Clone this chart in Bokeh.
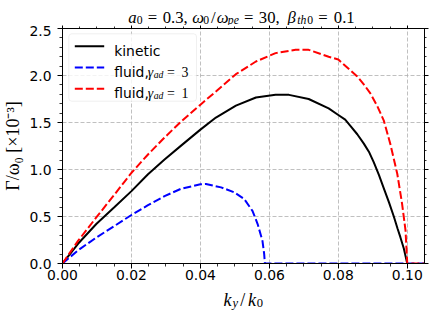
from bokeh.plotting import figure
from bokeh.layouts import column
from bokeh.models import (Range1d, LinearAxis, SingleIntervalTicker, PrintfTickFormatter,
                          CustomJSTickFormatter, Label, BoxAnnotation, Arrow)
from bokeh.embed import file_html
from bokeh.resources import INLINE

# ---------------- data ----------------
k_kinetic = [0.0, 0.0045, 0.0098, 0.0151, 0.020, 0.0248, 0.0296, 0.0344, 0.040, 0.0445,
             0.0503, 0.0561, 0.0618, 0.0657, 0.0714, 0.0772, 0.0800, 0.0820, 0.0835,
             0.0855, 0.0874, 0.0890, 0.0903, 0.0918, 0.0932, 0.0947, 0.0961, 0.0972,
             0.0980, 0.0990, 0.1000]
g_kinetic = [0.0, 0.21, 0.42, 0.60, 0.77, 0.95, 1.106, 1.254, 1.424, 1.553,
             1.68, 1.766, 1.794, 1.794, 1.75, 1.65, 1.58, 1.53, 1.465,
             1.375, 1.275, 1.18, 1.075, 0.94, 0.80, 0.65, 0.50, 0.37,
             0.28, 0.16, 0.0]

k_fluid3 = [0.0, 0.0045, 0.0098, 0.0151, 0.020, 0.0248, 0.0296, 0.0344, 0.040, 0.0416,
            0.046, 0.0498, 0.0527, 0.0551, 0.0566, 0.0580, 0.0585, 0.0587, 0.105]
g_fluid3 = [0.0, 0.14, 0.276, 0.40, 0.516, 0.62, 0.717, 0.795, 0.843, 0.846,
            0.81, 0.757, 0.686, 0.56, 0.42, 0.24, 0.10, 0.0, 0.0]

k_fluid1 = [0.0, 0.0045, 0.0098, 0.0151, 0.020, 0.0248, 0.0296, 0.0344, 0.040, 0.0445,
            0.0503, 0.0561, 0.0618, 0.0676, 0.0714, 0.0772, 0.0800, 0.0855, 0.0875,
            0.0893, 0.0913, 0.0932, 0.0951, 0.0971, 0.0985, 0.0995, 0.1000, 0.105]
g_fluid1 = [0.0, 0.24, 0.49, 0.735, 0.965, 1.16, 1.34, 1.51, 1.69, 1.83,
            2.014, 2.149, 2.238, 2.273, 2.273, 2.20, 2.17, 1.99, 1.90,
            1.81, 1.675, 1.52, 1.27, 0.955, 0.635, 0.35, 0.0, 0.0]

x_limits = (0.0, 0.105)
y_limits = (0.0, 2.5)
y_label = "Γ/ω₀ [×10⁻³]"

# ---------------- page layout (pixels) ----------------
PW, PH = 436, 315
FL, FT, FR, FB = 61, 28, 424, 263      # frame edges on the page
TOP_H = 25                             # title strip height
BOT_Y = 286                            # x-label strip starts here
MID_H = BOT_Y - TOP_H


def strip(h, y0):
    """A text strip; its frame spans page x FL..FR and its data coordinates are page pixels."""
    f = figure(width=PW, height=h, x_range=Range1d(FL, FR), y_range=Range1d(y0 + h, y0),
               output_backend="svg", toolbar_location=None, title=None,
               x_axis_type=None, y_axis_type=None,
               min_border_left=FL, min_border_right=PW - FR,
               min_border_top=0, min_border_bottom=0)
    f.outline_line_color = None
    f.background_fill_color = "white"
    f.border_fill_color = "white"
    f.grid.visible = False
    return f


title_fig = strip(TOP_H, 0)
xlab_fig = strip(PH - BOT_Y, BOT_Y)

p = figure(width=PW, height=MID_H, x_range=Range1d(*x_limits), y_range=Range1d(*y_limits),
           output_backend="svg", toolbar_location=None, title=None,
           min_border_left=FL, min_border_right=PW - FR,
           min_border_top=FT - TOP_H, min_border_bottom=BOT_Y - FB)
p.background_fill_color = "white"
p.border_fill_color = "white"
p.outline_line_color = "black"
p.outline_line_width = 1

xt = SingleIntervalTicker(interval=0.02, num_minor_ticks=4)
yt = SingleIntervalTicker(interval=0.5, num_minor_ticks=5)


def style_axis(ax, ticker, labels, fmt=None, standoff=5, tick=5, minor=3):
    ax.ticker = ticker
    ax.axis_line_color = "black"
    ax.axis_line_width = 1
    ax.major_tick_in = 0
    ax.major_tick_out = tick
    ax.minor_tick_in = 0
    ax.minor_tick_out = minor
    ax.major_tick_line_color = "black"
    ax.minor_tick_line_color = "black"
    ax.major_tick_line_width = 1
    ax.minor_tick_line_width = 0.8
    if labels:
        ax.formatter = fmt
        ax.major_label_text_font = "DejaVu Sans"
        ax.major_label_text_font_size = "13.9px"
        ax.major_label_text_color = "black"
        ax.major_label_standoff = standoff
    else:
        ax.formatter = CustomJSTickFormatter(code="return ''")
        ax.major_label_text_font_size = "0px"
        ax.major_label_standoff = 0


style_axis(p.xaxis[0], xt, True, PrintfTickFormatter(format="%.2f"), standoff=1)
style_axis(p.yaxis[0], yt, True, PrintfTickFormatter(format="%.1f"), standoff=6)
p.yaxis[0].axis_label = y_label
p.yaxis[0].axis_label_text_font = "Liberation Serif"
p.yaxis[0].axis_label_text_font_style = "normal"
p.yaxis[0].axis_label_text_font_size = "18px"
p.yaxis[0].axis_label_text_color = "black"
p.yaxis[0].axis_label_standoff = 3

top_ax = LinearAxis()
right_ax = LinearAxis()
style_axis(top_ax, xt, False, tick=3, minor=2)
style_axis(right_ax, yt, False, tick=4, minor=2)
p.add_layout(top_ax, "above")
p.add_layout(right_ax, "right")

p.xgrid.ticker = xt
p.ygrid.ticker = yt
for g in (p.xgrid[0], p.ygrid[0]):
    g.grid_line_color = "#b0b0b0"
    g.grid_line_dash = "4 2"
    g.grid_line_width = 0.8

# ---------------- curves ----------------
p.line(k_kinetic, g_kinetic, line_color="black", line_width=2)
p.line(k_fluid3, g_fluid3, line_color="#0000ff", line_width=2, line_dash="8 3")
p.line(k_fluid1, g_fluid1, line_color="#ff0000", line_width=2, line_dash="8 3")


# ---------------- text helpers ----------------
def put_page(fig, text, px, py, size, style="normal", font="Liberation Serif", align="center"):
    fig.add_layout(Label(x=px, y=py, text=text, text_font=font, text_font_size=f"{size}px",
                         text_font_style=style, text_color="black",
                         text_align=align, text_baseline="alphabetic"))


def put_frame(text, px, py, size, style="normal", font="Liberation Serif", align="center"):
    p.add_layout(Label(x=px - FL, y=FB - py, x_units="screen", y_units="screen",
                       text=text, text_font=font, text_font_size=f"{size}px",
                       text_font_style=style, text_color="black",
                       text_align=align, text_baseline="alphabetic"))


# title: a_0=0.3, omega_0/omega_pe=30, beta_th0=0.1
T, TS = 16.7, 11.7
tb, sb = 17.0, 19.8
title_parts = [("a", 131.1, T, "italic", tb), ("0", 138.4, TS, "normal", sb),
               ("=", 151.2, T, "normal", tb), ("0.3,", 174.0, T, "normal", tb),
               ("ω", 196.9, T, "italic", tb), ("0", 205.0, TS, "normal", sb),
               ("/", 212.2, T, "normal", tb), ("ω", 221.5, T, "italic", tb),
               ("pe", 232.3, TS, "italic", sb), ("=", 247.8, T, "normal", tb),
               ("30,", 268.3, T, "normal", tb), ("β", 290.7, T, "italic", tb),
               ("th", 301.0, TS, "italic", sb), ("0", 309.4, TS, "normal", sb),
               ("=", 322.1, T, "normal", tb), ("0.1", 343.5, T, "normal", tb)]
for t, x, s, st, y in title_parts:
    put_page(title_fig, t, x, y, s, st)

# x label: k_y / k_0
L, LS = 18, 12.6
xb = 299
for t, x, s, st, y in [("k", 226.4, L, "italic", xb), ("y", 234.2, LS, "italic", xb + 3.5),
                       ("/", 241.8, L, "normal", xb), ("k", 251.0, L, "italic", xb),
                       ("0", 258.9, LS, "normal", xb + 3.5)]:
    put_page(xlab_fig, t, x, y, s, st)

# ---------------- legend ----------------
p.add_layout(BoxAnnotation(left=67.3 - FL, right=195 - FL, top=FB - 33.3, bottom=FB - 100.7,
                           left_units="screen", right_units="screen",
                           top_units="screen", bottom_units="screen",
                           fill_color="white", fill_alpha=0.8, line_color="#cccccc",
                           line_width=1, border_radius=3, level="annotation"))
rows = [(45.7, "black", None, None), (67.0, "#0000ff", "8 3", "3"), (88.3, "#ff0000", "8 3", "1")]
for yy, col, dash, val in rows:
    kw = dict(line_dash=dash) if dash else {}
    p.add_layout(Arrow(start=None, end=None, x_start=73.3 - FL, y_start=FB - yy,
                       x_end=102.7 - FL, y_end=FB - yy, start_units="screen",
                       end_units="screen", line_color=col, line_width=2, **kw))
    bl = yy + 4.5
    if val is None:
        put_frame("kinetic", 112.7, bl, 13.9, "normal", font="DejaVu Sans", align="left")
    else:
        put_frame("fluid,", 112.7, bl, 13.9, "normal", font="DejaVu Sans", align="left")
        put_frame("γ", 149.0, bl, 13.9, "italic")
        put_frame("ad", 157.0, bl + 2.5, 9.7, "italic")
        put_frame("=", 169.5, bl, 13.9, "normal")
        put_frame(val, 183.5, bl, 13.9, "normal")

layout = column(title_fig, p, xlab_fig)
open("out.html", "w").write(file_html(layout, INLINE))
